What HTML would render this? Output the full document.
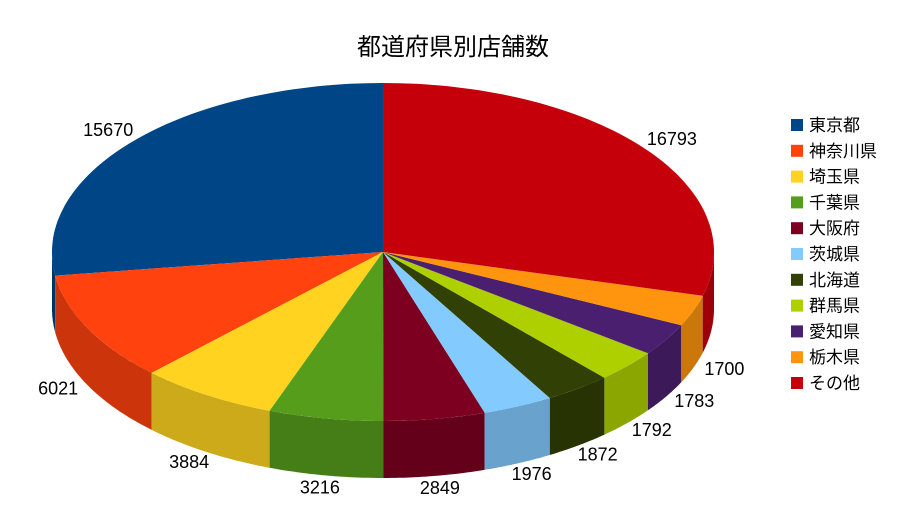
<!DOCTYPE html>
<html><head><meta charset="utf-8"><style>
body{margin:0;background:#fff;}
svg text{font-family:"Liberation Sans","Noto Sans CJK JP",sans-serif;}
</style></head><body>
<svg id="chart" width="907" height="510" xmlns="http://www.w3.org/2000/svg">
<rect width="907" height="510" fill="#fff"/>
<text x="453" y="55" font-size="24" text-anchor="middle" fill="#000">都道府県別店舗数</text>
<g id="sides"></g><g id="tops"></g><g id="labels"></g><g id="legend"></g>
</svg>
<script>
const categories=["東京都","神奈川県","埼玉県","千葉県","大阪府","茨城県","北海道","群馬県","愛知県","栃木県","その他"];
const values=[15670,6021,3884,3216,2849,1976,1872,1792,1783,1700,16793];
const colors=["#004586","#ff420e","#ffd320","#579d1c","#7e0021","#83caff","#314004","#aecf00","#4b1f6f","#ff950e","#c5000b"];
const sideColors=["#003466","#cc350b","#ccaa1a","#457d16","#65001a","#69a2cc","#273303","#8ba600","#3c1959","#cc770b","#9d0009"];
const cx=383,cy=252,rx=331,ry=169,depth=57;
const NS="http://www.w3.org/2000/svg";
const total=values.reduce((a,b)=>a+b,0);
function pt(t,dy){return [cx-rx*Math.sin(t),cy-ry*Math.cos(t)+(dy||0)];}
const sides=document.getElementById('sides'),tops=document.getElementById('tops'),labels=document.getElementById('labels'),legend=document.getElementById('legend');
let acc=0;
values.forEach((v,i)=>{
  const a0=acc/total*2*Math.PI; acc+=v; const a1=acc/total*2*Math.PI;
  const s0=Math.max(a0,Math.PI/2),s1=Math.min(a1,3*Math.PI/2);
  if(s1>s0){
    let d="";const n=40;
    for(let k=0;k<=n;k++){const p=pt(s0+(s1-s0)*k/n,0);d+=(k?"L":"M")+p[0].toFixed(1)+","+p[1].toFixed(1);}
    for(let k=n;k>=0;k--){const p=pt(s0+(s1-s0)*k/n,depth);d+="L"+p[0].toFixed(1)+","+p[1].toFixed(1);}
    const side=document.createElementNS(NS,'path');
    side.setAttribute('d',d+"Z");side.setAttribute('fill',sideColors[i]);
    
    
    sides.appendChild(side);
  }
  let d="M"+cx+","+cy;const n=Math.max(4,Math.ceil((a1-a0)*40));
  for(let k=0;k<=n;k++){const p=pt(a0+(a1-a0)*k/n,0);d+="L"+p[0].toFixed(1)+","+p[1].toFixed(1);}
  const top=document.createElementNS(NS,'path');
  top.setAttribute('d',d+"Z");top.setAttribute('fill',colors[i]);
  
  
  tops.appendChild(top);
  const m=(a0+a1)/2;
  const lx=cx-rx*1.10*Math.sin(m), ly=cy-ry*1.10*Math.cos(m)+(Math.cos(m)<0?depth*0.92:0)+6;
  const t=document.createElementNS(NS,'text');
  t.setAttribute('x',lx.toFixed(1));t.setAttribute('y',ly.toFixed(1));
  t.setAttribute('font-size','18');t.setAttribute('text-anchor','middle');
  t.textContent=v;
  
  
  labels.appendChild(t);
  const y=125+i*25.8;
  const r=document.createElementNS(NS,'rect');
  r.setAttribute('x',791);r.setAttribute('y',y-6);r.setAttribute('width',12);r.setAttribute('height',12);r.setAttribute('fill',colors[i]);
  
  
  legend.appendChild(r);
  const lt=document.createElementNS(NS,'text');
  lt.setAttribute('x',809);lt.setAttribute('y',y+6);lt.setAttribute('font-size','17');
  lt.textContent=categories[i];
  
  
  legend.appendChild(lt);
});
</script>
</body></html>
